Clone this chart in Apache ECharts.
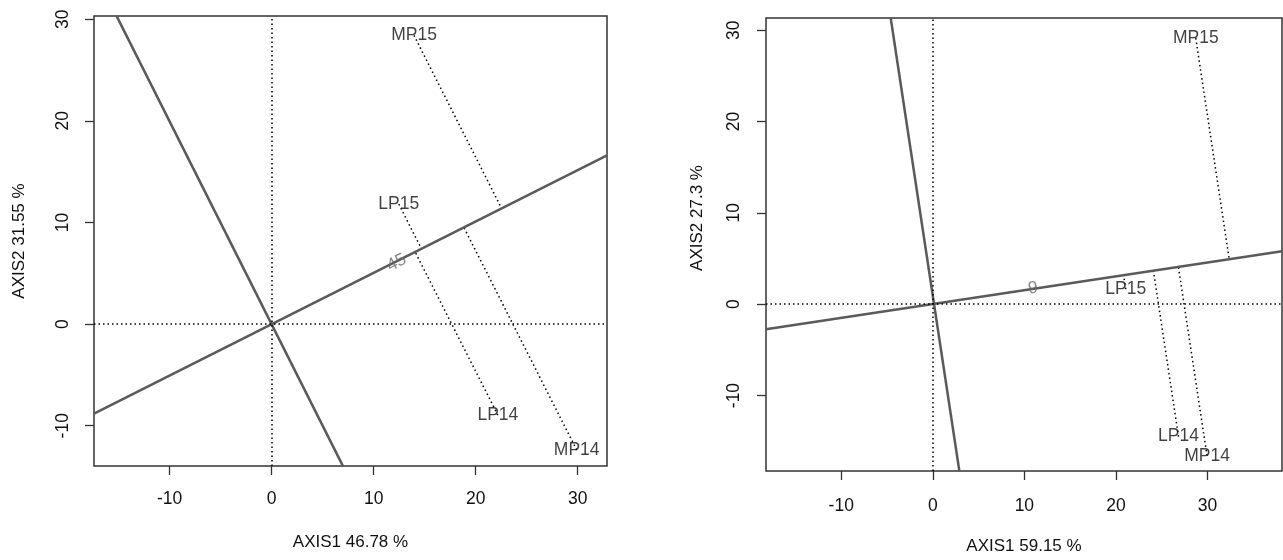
<!DOCTYPE html>
<html lang="en">
<head>
  <meta charset="UTF-8">
  <title>AXIS plots</title>
  <script src="https://cdn.jsdelivr.net/npm/echarts@6/dist/echarts.min.js"></script>
  <style>
    html, body { margin: 0; padding: 0; background: #fff; }
  </style>
</head>
<body>
  <div id="chart" style="width: 1283px; height: 560px;"></div>

  <script>
    // tick labels shared by both panels
    const tickValues = [-10, 0, 10, 20, 30]

    // left panel: labels, their points and the feet of the dotted projections
    const leftNames = ['MP15', 'LP15', 'LP14', 'MP14']
    const leftX = [13.95, 12.46, 22.17, 29.9]
    const leftY = [28.4, 11.8, -8.95, -12.39]
    const leftFootX = [22.54, 14.68, 14.06, 18.84]
    const leftFootY = [11.38, 7.41, 7.10, 9.51]
    const leftAxis1 = [[-17.42, -8.8], [32.87, 16.6]]
    const leftAxis2 = [[-15.2, 30.3], [7.0, -14.0]]
    const leftMark = { text: '45', x: 12.25, y: 6.03, rotate: 27 }
    const leftXRange = [-17.42, 32.87]
    const leftYRange = [-13.96, 30.31]
    const leftTitles = ['AXIS1 46.78 %', 'AXIS2 31.55 %']

    // right panel
    const rightNames = ['MP15', 'LP15', 'LP14', 'MP14']
    const rightX = [28.72, 21.07, 26.84, 29.95]
    const rightY = [29.13, 1.65, -14.5, -16.59]
    const rightFootX = [32.38, 20.84, 24.1, 26.83]
    const rightFootY = [4.89, 3.15, 3.64, 4.05]
    const rightAxis1 = [[-18.22, -2.75], [38.14, 5.8]]
    const rightAxis2 = [[-4.6, 31.33], [2.9, -18.26]]
    const rightMark = { text: '9', x: 10.96, y: 1.75, rotate: 9 }
    const rightXRange = [-18.22, 38.14]
    const rightYRange = [-18.26, 31.33]
    const rightTitles = ['AXIS1 59.15 %', 'AXIS2 27.3 %']

    const font = 'Liberation Sans, Arial, sans-serif'
    const textColor = '#111'
    const fontSize = 17.5

    function makeX(idx, range, title, labelMargin, nameGap) {
      return {
        type: 'value', gridIndex: idx, min: range[0], max: range[1],
        axisLine: { show: false, onZero: false },
        axisTick: { show: true, length: 9, customValues: tickValues, lineStyle: { color: '#333', width: 1.3 } },
        axisLabel: { customValues: tickValues, margin: labelMargin, color: textColor, fontSize: fontSize, fontFamily: font },
        splitLine: { show: false },
        name: title, nameLocation: 'middle', nameGap: nameGap,
        nameTextStyle: { color: textColor, fontSize: fontSize - 0.5, fontFamily: font }
      }
    }

    function makeY(idx, range, title, labelMargin, nameGap, namePad) {
      return {
        type: 'value', gridIndex: idx, min: range[0], max: range[1],
        axisLine: { show: false, onZero: false },
        axisTick: { show: true, length: 9, customValues: tickValues, lineStyle: { color: '#333', width: 1.3 } },
        axisLabel: { customValues: tickValues, rotate: 90, margin: labelMargin, color: textColor, fontSize: fontSize, fontFamily: font },
        splitLine: { show: false },
        name: title, nameLocation: 'middle', nameGap: nameGap,
        nameTextStyle: { color: textColor, fontSize: fontSize - 0.5, fontFamily: font, padding: namePad }
      }
    }

    function panelSeries(idx, names, xs, ys, fx, fy, axis1, axis2, mark) {
      const solid = { color: '#5a5a5a', width: 2.5 }
      const dotted = { color: '#000', width: 1.5, type: [1.5, 3], opacity: 1 }
      return [
        {
          type: 'line', xAxisIndex: idx, yAxisIndex: idx, data: axis1,
          showSymbol: false, lineStyle: solid, silent: true, z: 3,
          markLine: {
            silent: true, symbol: ['none', 'none'], label: { show: false },
            lineStyle: dotted, emphasis: { disabled: true },
            data: [{ xAxis: 0 }, { yAxis: 0 }]
          }
        },
        {
          type: 'line', xAxisIndex: idx, yAxisIndex: idx, data: axis2,
          showSymbol: false, lineStyle: solid, silent: true, z: 3
        },
        {
          type: 'lines', coordinateSystem: 'cartesian2d', xAxisIndex: idx, yAxisIndex: idx,
          lineStyle: dotted, silent: true, z: 2,
          data: names.map((n, i) => ({ coords: [[xs[i], ys[i]], [fx[i], fy[i]]] }))
        },
        {
          type: 'scatter', xAxisIndex: idx, yAxisIndex: idx, symbolSize: 1,
          itemStyle: { color: 'transparent' }, silent: true, z: 5,
          label: { show: true, position: 'inside', formatter: '{b}', color: textColor, fontSize: fontSize, fontFamily: font },
          data: names.map((n, i) => ({ name: n, value: [xs[i], ys[i]] }))
        },
        {
          type: 'scatter', xAxisIndex: idx, yAxisIndex: idx, symbolSize: 1,
          itemStyle: { color: 'transparent' }, silent: true, z: 5,
          label: { show: true, position: 'inside', formatter: '{b}', rotate: mark.rotate, color: '#6a6a6a', fontSize: fontSize, fontFamily: font },
          data: [{ name: mark.text, value: [mark.x, mark.y] }]
        }
      ]
    }

    let myChart = echarts.init(document.querySelector('#chart'))

    let options = {
      animation: false,
      backgroundColor: '#fff',
      grid: [
        { left: 94, top: 16, width: 513, height: 450, show: true, borderColor: '#333', borderWidth: 1.5, backgroundColor: 'transparent' },
        { left: 766, top: 18, width: 516, height: 453, show: true, borderColor: '#333', borderWidth: 1.5, backgroundColor: 'transparent' }
      ],
      xAxis: [
        makeX(0, leftXRange, leftTitles[0], 24, 68),
        makeX(1, rightXRange, rightTitles[0], 26, 67)
      ],
      yAxis: [
        makeY(0, leftYRange, leftTitles[1], 22, 66, 0),
        makeY(1, rightYRange, rightTitles[1], 23, 60, [0, 0, 0, 53])
      ],
      series: [].concat(
        panelSeries(0, leftNames, leftX, leftY, leftFootX, leftFootY, leftAxis1, leftAxis2, leftMark),
        panelSeries(1, rightNames, rightX, rightY, rightFootX, rightFootY, rightAxis1, rightAxis2, rightMark)
      )
    }

    myChart.setOption(options)
  </script>
</body>
</html>
